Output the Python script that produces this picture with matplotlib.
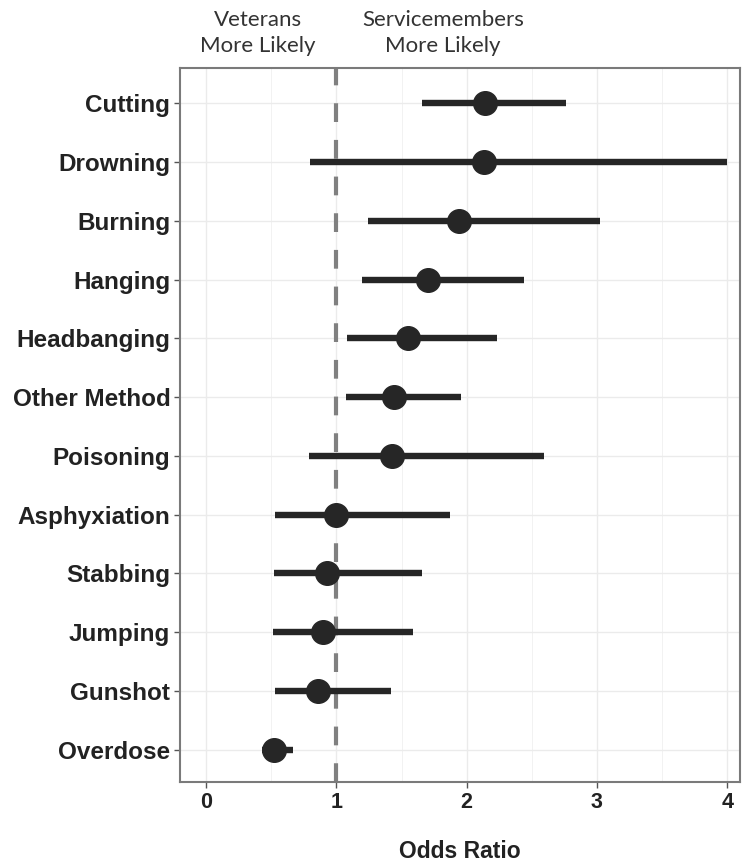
import matplotlib.pyplot as plt
import matplotlib.transforms as mtransforms
from matplotlib.ticker import MultipleLocator

# forest plot: odds ratios with 95% CI, top row first
methods = ['Cutting', 'Drowning', 'Burning', 'Hanging', 'Headbanging', 'Other Method',
           'Poisoning', 'Asphyxiation', 'Stabbing', 'Jumping', 'Gunshot', 'Overdose']
odds = [2.14, 2.13, 1.94, 1.70, 1.55, 1.44, 1.43, 1.00, 0.93, 0.90, 0.86, 0.52]
ci_low = [1.66, 0.80, 1.24, 1.20, 1.08, 1.07, 0.79, 0.53, 0.52, 0.51, 0.53, 0.43]
ci_high = [2.76, 4.00, 3.02, 2.44, 2.23, 1.96, 2.59, 1.87, 1.66, 1.59, 1.42, 0.67]
xticks = [0, 1, 2, 3, 4]

plt.rcParams['font.family'] = ['Liberation Sans', 'DejaVu Sans']

fig = plt.figure(figsize=(7.44, 8.64), dpi=100)
ax = fig.add_axes([0.242, 0.095, 0.753, 0.826])

n = len(methods)
ypos = list(range(n, 0, -1))

ax.axvline(1, color='#808080', lw=3, ls=(0, (4.5, 4.3)), zorder=2)
ax.hlines(ypos, ci_low, ci_high, color='#262626', lw=4.6, zorder=3)
ax.plot(odds, ypos, 'o', color='#262626', ms=17, zorder=4)

ax.set_xlim(-0.2, 4.1)
ax.set_ylim(0.45, n + 0.6)
ax.set_yticks(ypos)
ax.set_yticklabels(methods, fontsize=17.5, fontweight='bold', color='#222222')
ax.set_xticks(xticks)
ax.set_xticklabels([str(t) for t in xticks], fontsize=15.5, fontweight='bold', color='#222222')
ax.xaxis.set_minor_locator(MultipleLocator(0.5))
ax.tick_params(axis='both', which='major', length=4, width=1, color='#555555', pad=3)
ax.tick_params(axis='x', which='minor', length=0)

ax.grid(True, which='major', color='#ebebeb', lw=1)
ax.grid(True, which='minor', axis='x', color='#f2f2f2', lw=0.7)
ax.set_axisbelow(True)
for s in ax.spines.values():
    s.set_color('#7a7a7a')
    s.set_linewidth(1.5)

ax.set_xlabel('Odds Ratio', fontsize=16.5, fontweight='bold', color='#222222', labelpad=20)

trans = mtransforms.blended_transform_factory(ax.transData, fig.transFigure)
ax.text(0.40, 0.962, 'Veterans\nMore Likely', transform=trans, ha='center', va='center',
        fontsize=16, family=['Lato', 'DejaVu Sans'], color='#333333', linespacing=1.4)
ax.text(1.82, 0.962, 'Servicemembers\nMore Likely', transform=trans, ha='center', va='center',
        fontsize=16, family=['Lato', 'DejaVu Sans'], color='#333333', linespacing=1.4)

fig.savefig('out.png', dpi=100)
